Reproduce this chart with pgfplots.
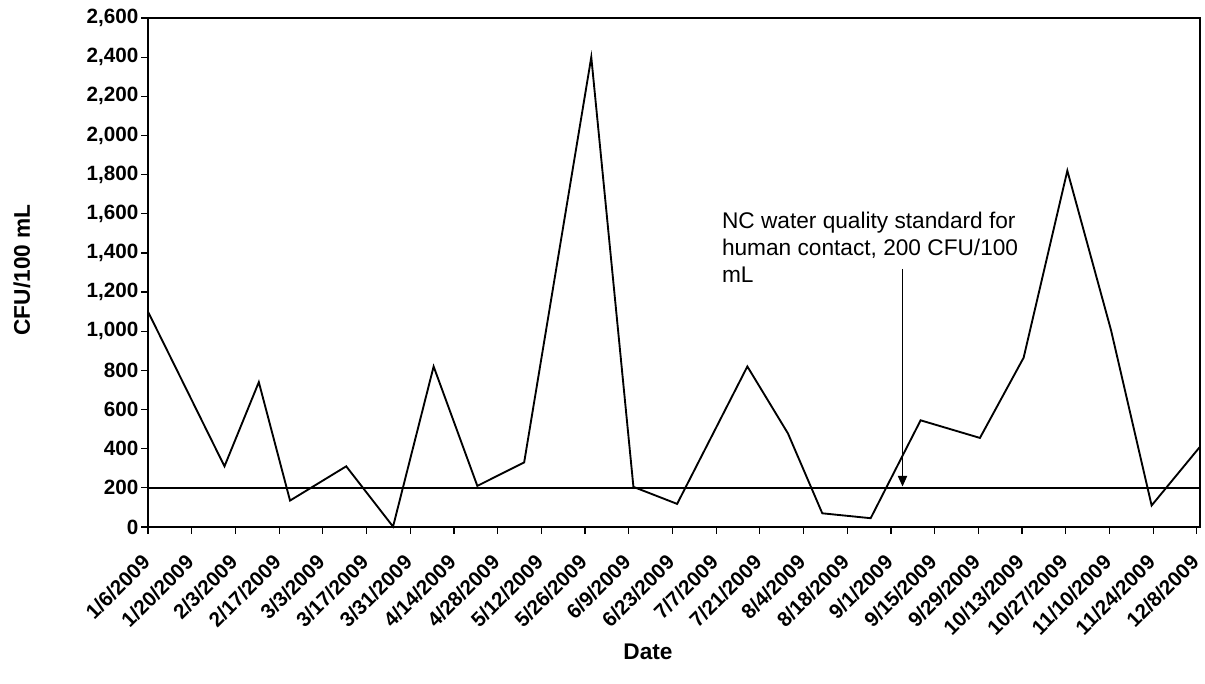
\documentclass[border=0pt]{standalone}
\usepackage{pgfplots}
\pgfplotsset{compat=1.18}
\usepackage{fontspec}
\setmainfont{Liberation Sans}
\usetikzlibrary{arrows.meta}
\begin{document}
\begin{tikzpicture}
\useasboundingbox (0,0) rectangle (903.75pt,512.25pt);
\begin{axis}[
  at={(111pt,117pt)}, anchor=south west,
  scale only axis, width=789pt, height=381.75pt,
  xmin=0, xmax=337, ymin=0, ymax=2600,
  xtick={0,14,...,336},
  xticklabels={1/6/2009,1/20/2009,2/3/2009,2/17/2009,3/3/2009,3/17/2009,3/31/2009,4/14/2009,4/28/2009,5/12/2009,5/26/2009,6/9/2009,6/23/2009,7/7/2009,7/21/2009,8/4/2009,8/18/2009,9/1/2009,9/15/2009,9/29/2009,10/13/2009,10/27/2009,11/10/2009,11/24/2009,12/8/2009},
  ytick={0,200,...,2600},
  tick align=outside, major tick length=5pt,
  xtick pos=bottom, ytick pos=left,
  /pgf/number format/.cd, 1000 sep={,}, assume math mode=true,
  /pgfplots/.cd,
  tick label style={font=\bfseries\fontsize{15.5}{18}\selectfont, black},
  xticklabel style={xshift=-5.5pt, yshift=-13pt, rotate=45, anchor=north east, inner sep=1pt},
  yticklabel style={inner sep=2pt},
  axis line style={black, line width=1pt},
  tick style={black, line width=0.9pt},
  xlabel={Date}, ylabel={CFU/100 mL},
  label style={font=\bfseries\fontsize{17}{20}\selectfont},
  xlabel style={at={(axis description cs:0.4753,-0.2456)}, anchor=center},
  ylabel style={at={(axis description cs:-0.1198,0.505)}, anchor=center},
  clip=false,
]
\addplot[black, line width=1.4pt, line join=miter] coordinates {
(0,1100) (24.5,310) (35.5,740) (45.5,135) (63.5,310) (78.5,2) (91.5,820) (105.5,210)
(120.5,330) (142,2400) (155.5,205) (169.5,118) (192,820) (205,478) (216,70)
(231.5,45) (247.5,545) (266.5,455) (280.5,865) (294.5,1820) (308.5,1005) (321.5,110) (337,410)
};
\addplot[black, line width=1.1pt] coordinates {(0,200) (337,200)};
\draw[black, line width=0.8pt, -{Triangle[width=7pt,length=8pt]}] (axis cs:241.7,1318) -- (axis cs:241.7,207);
\node[anchor=north west, align=left, inner sep=0pt, font=\fontsize{17}{20.5}\selectfont] at (axis cs:183.8,1612) {NC water quality standard for\\human contact, 200 CFU/100\\mL};
\end{axis}
\end{tikzpicture}
\end{document}
